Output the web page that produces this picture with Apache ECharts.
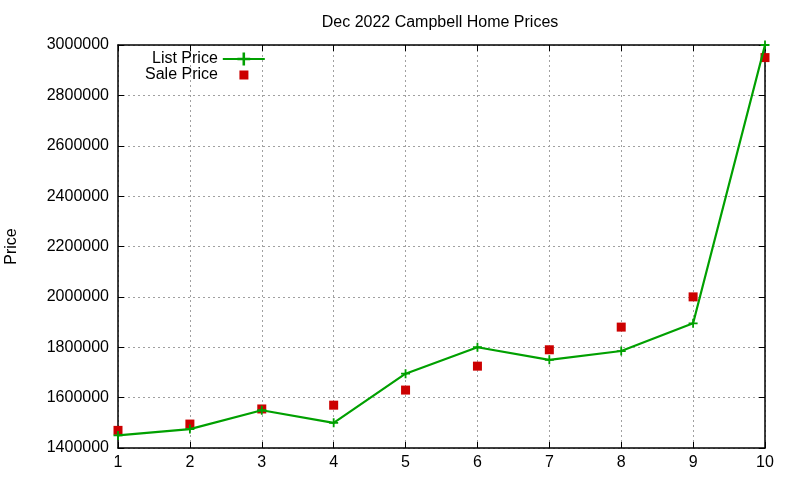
<!DOCTYPE html>
<html>
<head>
<meta charset="utf-8">
<script src="https://cdn.jsdelivr.net/npm/echarts@6/dist/echarts.min.js"></script>
<style>
  html, body { margin: 0; padding: 0; background: #fff; }
  #chart { width: 800px; height: 480px; }
</style>
</head>
<body>
<div id="chart"></div>
<script>
// house index 1..10, prices
const houses = [1, 2, 3, 4, 5, 6, 7, 8, 9, 10];
const listPrice = [1450000, 1475000, 1550000, 1500000, 1695000, 1800000, 1750000, 1785000, 1895000, 3000000];
const salePrice = [1470000, 1495000, 1555000, 1570000, 1630000, 1725000, 1790000, 1880000, 2000000, 2950000];

const font = "Liberation Sans";
const plusPath = "path://M4,0h2v4h4v2h-4v4h-2v-4h-4v-2h4z";
const squarePath = "path://M0,0H1V1H0Z";

const chart = echarts.init(document.getElementById("chart"));

const tickInside = { show: true, inside: true, length: 6, lineStyle: { color: "#000", width: 1 } };
const axisBlack = { show: true, onZero: false, lineStyle: { color: "#000", width: 1.5 } };
const gridLine = { show: true, lineStyle: { color: "#a0a0a0", type: [2, 3], width: 1 } };

let option = {
  animation: false,
  textStyle: { fontFamily: font },
  title: {
    text: "Dec 2022 Campbell Home Prices",
    left: 435,
    textAlign: "center",
    top: 10,
    textStyle: { fontFamily: font, fontSize: 16, fontWeight: "normal", color: "#000" }
  },
  legend: [
    {
      data: [{ name: "List Price" }],
      left: 147,
      top: 46,
      align: "right",
      itemWidth: 42,
      itemHeight: 16,
      textStyle: { fontFamily: font, fontSize: 16, color: "#000" }
    },
    {
      data: [{ name: "Sale Price", icon: squarePath }],
      left: 140,
      top: 62,
      align: "right",
      itemWidth: 42,
      itemHeight: 9,
      symbolKeepAspect: true,
      textStyle: { fontFamily: font, fontSize: 16, color: "#000" }
    }
  ],
  grid: { left: 118, right: 35, top: 45, bottom: 32, outerBoundsMode: "none" },
  xAxis: [
    {
      type: "value",
      min: 1,
      max: 10,
      interval: 1,
      axisLine: axisBlack,
      axisTick: tickInside,
      axisLabel: { color: "#000", fontSize: 16, fontFamily: font, margin: 7 },
      splitLine: gridLine
    },
    {
      type: "value",
      position: "top",
      min: 1,
      max: 10,
      interval: 1,
      axisLine: axisBlack,
      axisTick: tickInside,
      axisLabel: { show: false },
      splitLine: { show: false }
    }
  ],
  yAxis: [
    {
      type: "value",
      min: 1400000,
      max: 3000000,
      interval: 200000,
      name: "Price",
      nameLocation: "middle",
      nameGap: 98,
      nameTextStyle: { color: "#000", fontSize: 16, fontFamily: font },
      axisLine: axisBlack,
      axisTick: tickInside,
      axisLabel: { color: "#000", fontSize: 16, fontFamily: font, margin: 9, formatter: v => String(v) },
      splitLine: gridLine
    },
    {
      type: "value",
      position: "right",
      min: 1400000,
      max: 3000000,
      interval: 200000,
      axisLine: axisBlack,
      axisTick: tickInside,
      axisLabel: { show: false },
      splitLine: { show: false }
    }
  ],
  series: [
    {
      name: "List Price",
      type: "line",
      data: houses.map((h, i) => [h, listPrice[i]]),
      symbol: plusPath,
      symbolSize: 9,
      showAllSymbol: true,
      lineStyle: { color: "#00a000", width: 2.2 },
      itemStyle: { color: "#00a000" },
      z: 3
    },
    {
      name: "Sale Price",
      type: "scatter",
      data: houses.map((h, i) => [h, salePrice[i]]),
      symbol: "rect",
      symbolSize: 9,
      itemStyle: { color: "#cc0000", opacity: 1 },
      z: 2
    }
  ]
};

chart.setOption(option);
</script>
</body>
</html>
